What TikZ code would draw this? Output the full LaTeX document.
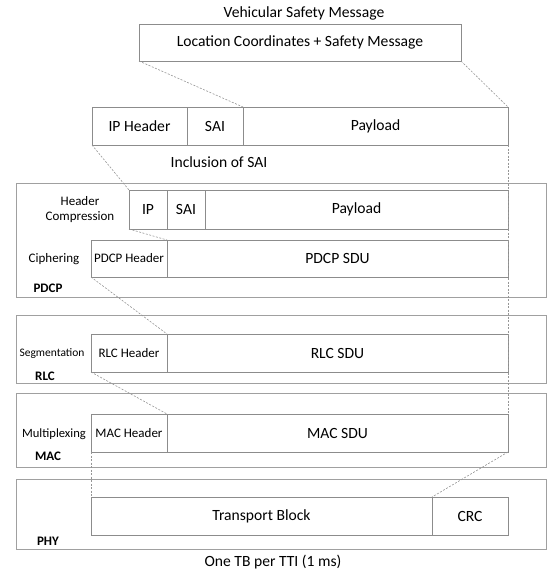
\documentclass[tikz,border=0pt]{standalone}
\usepackage{fontspec}
\setmainfont{Carlito}
\usepackage{tikz}
\usetikzlibrary{positioning}
\usepackage{xcolor}
\definecolor{frame}{RGB}{160,160,160}
\definecolor{edge}{RGB}{140,140,140}
\definecolor{guide}{RGB}{150,150,150}
\tikzset{
  layer/.style={draw=frame,line width=0.8pt,inner sep=0pt,outer sep=0pt,anchor=north west},
  cell/.style={draw=edge,line width=0.8pt,inner sep=0pt,outer sep=0pt,minimum height=38pt,
    font=\fontsize{15.6}{18}\selectfont},
  tag/.style={inner sep=0pt,font=\fontsize{13}{15}\selectfont,align=center},
  lname/.style={inner sep=0pt,font=\fontsize{13}{15}\selectfont\bfseries},
  caption/.style={inner sep=0pt,font=\fontsize{15.6}{18}\selectfont},
  link/.style={draw=guide,line width=0.6pt,dash pattern=on 2pt off 1.5pt},
}
\newcommand{\hdrfont}{\fontsize{13}{15}\selectfont}

\begin{document}
\begin{tikzpicture}[x=1pt,y=1pt]
  \useasboundingbox (0,0) rectangle (547,-573);
  % application message
  \node[caption] (title) at (304,-13) {Vehicular Safety Message};
  \node[cell,anchor=north west,minimum width=322pt,minimum height=37pt] (msg) at (139,-24)
   {Location Coordinates + Safety Message};
  % IP packet
  \node[cell,anchor=north west,minimum width=95pt] (iphdr) at (92,-107) {IP Header};
  \node[cell,minimum width=56pt,right=0pt of iphdr] (sai) {SAI};
  \node[cell,minimum width=265pt,right=0pt of sai] (pay) {Payload};
  \node[caption] (incl) at (219,-162) {Inclusion of SAI};
  % layer frames
  \node[layer,minimum width=530pt,minimum height=114pt] (pdcp) at (16,-183) {};
  \node[layer,minimum width=530pt,minimum height=68pt] (rlc) at (16,-315) {};
  \node[layer,minimum width=530pt,minimum height=74pt] (mac) at (16,-393) {};
  \node[layer,minimum width=530pt,minimum height=70pt] (phy) at (16,-479) {};
  % PDCP
  \node[cell,anchor=north west,minimum width=38pt,minimum height=39pt] (hcip) at (129,-190) {IP};
  \node[cell,minimum width=38pt,minimum height=39pt,right=0pt of hcip] (hcsai) {SAI};
  \node[cell,minimum width=303pt,minimum height=39pt,right=0pt of hcsai] (hcpay) {Payload};
  \node[tag] (hc) at (80,-210) {Header\\Compression};
  \node[cell,anchor=north west,minimum width=76pt,minimum height=37pt,font=\hdrfont] (pdcphdr)
   at (91,-240) {PDCP Header};
  \node[cell,minimum width=341pt,minimum height=37pt,right=0pt of pdcphdr] (pdcpsdu) {PDCP SDU};
  \node[tag] (ciph) at (54,-259) {Ciphering};
  \node[lname] (pdcpname) at (48,-288) {PDCP};
  % RLC
  \node[cell,anchor=north west,minimum width=76pt,font=\hdrfont] (rlchdr) at (91,-334) {RLC Header};
  \node[cell,minimum width=341pt,right=0pt of rlchdr] (rlcsdu) {RLC SDU};
  \node[tag,font=\fontsize{11.5}{13}\selectfont] (seg) at (52,-354) {Segmentation};
  \node[lname] (rlcname) at (45,-376) {RLC};
  % MAC
  \node[cell,anchor=north west,minimum width=76pt,font=\hdrfont] (machdr) at (91,-414) {MAC Header};
  \node[cell,minimum width=341pt,right=0pt of machdr] (macsdu) {MAC SDU};
  \node[tag,font=\fontsize{12.6}{14}\selectfont] (mux) at (54,-434) {Multiplexing};
  \node[lname] (macname) at (48,-456) {MAC};
  % PHY
  \node[cell,anchor=north west,minimum width=341pt] (tb) at (91,-497) {Transport Block};
  \node[cell,minimum width=76pt,right=0pt of tb] (crc) {CRC};
  \node[lname] (phyname) at (48,-541) {PHY};
  \node[caption] (tti) at (273,-562) {One TB per TTI (1 ms)};
  % mapping guides
  \draw[link] (msg.south west) -- (sai.north east);
  \draw[link] (msg.south east) -- (pay.north east);
  \draw[link] (iphdr.south west) -- (hcip.north west);
  \draw[link] (pay.south east) -- (macsdu.north east);
  \draw[link] (hcip.south west) -- (pdcphdr.north east);
  \draw[link] (pdcphdr.south west) -- (rlchdr.north east);
  \draw[link] (rlchdr.south west) -- (machdr.north east);
  \draw[link] (machdr.south west) -- (tb.north west);
  \draw[link] (macsdu.south east) -- (crc.north west);
\end{tikzpicture}
\end{document}
